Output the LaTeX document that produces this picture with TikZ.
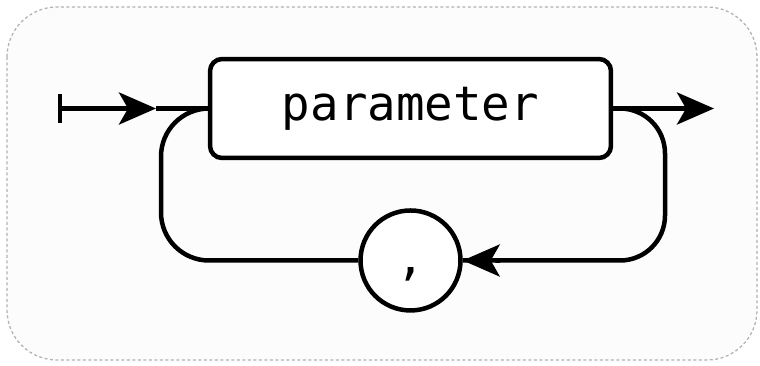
\documentclass[tikz,border=0pt]{standalone}
\usepackage{fontspec}
\setmonofont{DejaVu Sans Mono}
\usepackage{tikz}
\usetikzlibrary{arrows.meta,shapes,backgrounds}
\tikzstyle{line} = [line width=0.09cm, black, line cap=butt]
\tikzstyle{tip} = [-{Stealth[length=0.74cm,width=0.64cm,inset=0.18cm]}]
\begin{document}
\begin{tikzpicture}[x=0.02cm,y=-0.02cm,node distance=3.04cm]
    \tikzstyle{term}=[rectangle,rounded corners=0.24cm,line width=0.09cm,draw=black,fill=white,minimum width=8.02cm,minimum height=1.98cm,font=\ttfamily\fontsize{27}{30}\selectfont]
    \tikzstyle{sep}=[circle,line width=0.09cm,draw=black,fill=white,minimum size=2cm,inner sep=0pt,text height=0.56cm,text depth=0cm,font=\ttfamily\fontsize{27}{30}\selectfont]
    \useasboundingbox (0,0) rectangle (760,365);
    \draw[gray!60,dashed,line width=0.025cm,dash pattern=on 0.06cm off 0.05cm,rounded corners=1cm,fill=gray!2] (7,7) rectangle (757,360);
    \node[term](param) at (410.5,108.5){parameter};
    \node[sep,below of=param](comma){,};
    \coordinate (start) at (58,108.5);
    \coordinate (in) at (156,108.5);
    \coordinate (out) at (714,108.5);
    % entry and exit
    \draw[line,{Bar[width=0.6cm]}-{Stealth[length=0.74cm,width=0.64cm,inset=0.18cm]}] (start) -- (in);
    \draw[line] (in) -- (param.west);
    \draw[line,tip] (param.east) -- (out);
    % loop back through the comma
    \draw[line,rounded corners=0.9cm] (param.east) -- (665,108.5) -- (665,260.5) -- (comma.east)
        [tip] (500,260.5) -- (comma.east);
    \draw[line,rounded corners=0.96cm] (comma.west) -- (161,260.5) -- (161,108.5) -- (param.west);
\end{tikzpicture}
\end{document}
